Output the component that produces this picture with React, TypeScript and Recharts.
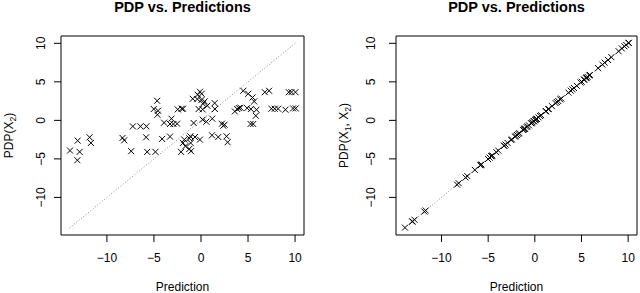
import { ScatterChart, Scatter, XAxis, YAxis, ReferenceLine, ReferenceArea } from 'recharts';

// predictions (x)
const prediction = [
    -13.92, -13.11, -13.14, -12.9, -11.84, -11.7, -8.34, -8.16, -7.42, -7.24,
    -6.43, -5.8, -5.83, -5.72, -4.84, -5.02, -4.66, -4.56, -4.63, -4.13,
    -3.92, -3.29, -3.14, -2.93, -3.29, -2.54, -2.47, -2.05, -1.91, -2.12,
    -1.91, -1.77, -1.66, -1.24, -1.13, -1.1, -1.24, -1.06, -0.78, -0.88,
    -0.35, -0.11, 0.07, -0.39, -0.25, 0.04, 0.18, 0.21, 0.18, 0.57,
    -0.11, -0.64, 0.39, 0.67, 1.45, 1.48, 1.2, 1.17, 1.84, 2.72,
    2.83, 2.23, 2.37, 2.51, 3.6, 3.85, 4.03, 4.2, 4.49, 5.02,
    4.91, 5.3, 5.27, 5.55, 5.48, 5.65, 5.9, 5.83, 6.78, 7.24,
    7.49, 7.84, 8.2, 8.98, 9.33, 9.61, 10.04, 9.79, 10.07,
];

const pdpX2 = [
    -3.92, -2.63, -5.17, -4.09, -2.2, -2.93, -2.28, -2.59, -4.0, -0.78,
    -0.78, -0.78, -2.2, -4.09, -4.09, 1.47, 2.54, 1.25, 0.73, -2.41,
    -0.3, -0.47, 0.22, -0.47, -2.11, -0.43, 1.42, 1.51, 1.51, -4.09,
    -2.93, -2.5, -3.36, -2.33, -2.07, -2.93, -3.71, -4.0, -0.34, 2.8,
    3.32, 3.71, 3.45, 2.76, 1.47, 2.63, 1.42, 2.16, 0.09, -0.17,
    -2.5, -2.16, 2.46, 1.9, 2.24, 1.47, 0.22, -1.94, -2.16, -2.07,
    -2.84, -0.43, -0.69, -0.56, 1.16, 1.47, 1.59, 1.64, 3.84, 3.45,
    1.59, 1.47, -0.47, -0.47, 2.97, 2.46, 1.38, 0.6, 3.66, 3.84,
    1.51, 1.51, 1.51, 1.38, 3.66, 3.66, 3.66, 1.55, 1.55,
];

// right panel: the joint PDP sits on the diagonal
const pdpX1X2 = [
    -13.92, -13.11, -13.14, -12.9, -11.84, -11.7, -8.34, -8.16, -7.42, -7.24,
    -6.43, -5.8, -5.83, -5.72, -4.84, -5.02, -4.66, -4.56, -4.63, -4.13,
    -3.92, -3.29, -3.14, -2.93, -3.29, -2.54, -2.47, -2.05, -1.91, -2.12,
    -1.91, -1.77, -1.66, -1.24, -1.13, -1.1, -1.24, -1.06, -0.78, -0.88,
    -0.35, -0.11, 0.07, -0.39, -0.25, 0.04, 0.18, 0.21, 0.18, 0.57,
    -0.11, -0.64, 0.39, 0.67, 1.45, 1.48, 1.2, 1.17, 1.84, 2.72,
    2.83, 2.23, 2.37, 2.51, 3.6, 3.85, 4.03, 4.2, 4.49, 5.02,
    4.91, 5.3, 5.27, 5.55, 5.48, 5.65, 5.9, 5.83, 6.78, 7.24,
    7.49, 7.84, 8.2, 8.98, 9.33, 9.61, 10.04, 9.79, 10.07,
];

const ticks = [-10, -5, 0, 5, 10];
const diagonal = [-13.98, 10.04];
const limits: [number, number] = [-14.88, 10.95];

const FONT = '"Liberation Sans", Arial, Helvetica, sans-serif';
const fmt = (v: number) => String(v).replace('-', '\u2212');

const XMark = (props: any) => {
    const { cx, cy } = props;
    const s = 3;
    return (
        <g stroke="#000" strokeWidth={1}>
            <line x1={cx - s} y1={cy - s} x2={cx + s} y2={cy + s} />
            <line x1={cx - s} y1={cy + s} x2={cx + s} y2={cy - s} />
        </g>
    );
};

const XTick = ({ x, y, payload }: any) => (
    <text x={x} y={y} dy={9} textAnchor="middle" fontSize={12} fill="#000" fontFamily={FONT}>
        {fmt(payload.value)}
    </text>
);

const YTick = ({ x, y, payload }: any) => (
    <text x={x} y={y} textAnchor="middle" fontSize={12} fill="#000" fontFamily={FONT}
        transform={`rotate(-90, ${x}, ${y})`}>
        {fmt(payload.value)}
    </text>
);

interface PanelProps {
    ys: number[];
    yLabel: 'one' | 'two';
    axisWidth: number;
    right: number;
    yTickMargin: number;
    yLabelX: number;
}

const Panel = ({ ys, yLabel, axisWidth, right, yTickMargin, yLabelX }: PanelProps) => {
    const data = prediction.map((p, i) => ({ x: p, y: ys[i] }));
    const plotW = 320 - axisWidth - right;
    return (
        <div style={{ position: 'relative', width: 320, height: 293 }}>
            <div style={{
                position: 'absolute', top: -1, left: axisWidth, width: plotW, textAlign: 'center',
                fontFamily: FONT, fontWeight: 'bold', fontSize: 14.5, lineHeight: '16px', color: '#000',
            }}>
                PDP vs. Predictions
            </div>
            <ScatterChart width={320} height={293} margin={{ top: 36, right, bottom: 0, left: 0 }}>
                <XAxis
                    type="number" dataKey="x" domain={limits} ticks={ticks} allowDataOverflow
                    height={58} axisLine={false} tickLine={{ stroke: '#000' }} tickSize={7} tickMargin={11}
                    tick={<XTick />}
                    label={({ viewBox }: any) => (
                        <text x={viewBox.x + viewBox.width / 2} y={viewBox.y + 55.5} textAnchor="middle"
                            fontSize={12} fill="#000" fontFamily={FONT}>Prediction</text>
                    )}
                />
                <YAxis
                    type="number" dataKey="y" domain={limits} ticks={ticks} allowDataOverflow
                    width={axisWidth} axisLine={false} tickLine={{ stroke: '#000' }} tickSize={7} tickMargin={yTickMargin}
                    tick={<YTick />}
                    label={({ viewBox }: any) => {
                        const cx = viewBox.x + yLabelX;
                        const cy = viewBox.y + viewBox.height / 2;
                        return (
                            <text x={cx} y={cy} textAnchor="middle" fontSize={12} fill="#000" fontFamily={FONT}
                                transform={`rotate(-90, ${cx}, ${cy})`}>
                                {yLabel === 'one' ? (
                                    <>PDP(X<tspan fontSize={8.5} dy={3}>2</tspan><tspan dy={-3}>)</tspan></>
                                ) : (
                                    <>PDP(X<tspan fontSize={8.5} dy={3}>1</tspan><tspan dy={-3}>, X</tspan><tspan fontSize={8.5} dy={3}>2</tspan><tspan dy={-3}>)</tspan></>
                                )}
                            </text>
                        );
                    }}
                />
                <ReferenceArea x1={limits[0]} x2={limits[1]} y1={limits[0]} y2={limits[1]}
                    fill="none" stroke="#000" strokeWidth={1} ifOverflow="visible" />
                <ReferenceLine
                    segment={[{ x: diagonal[0], y: diagonal[0] }, { x: diagonal[1], y: diagonal[1] }]}
                    stroke="#888" strokeDasharray="1 2" ifOverflow="visible"
                />
                <Scatter data={data} shape={<XMark />} isAnimationActive={false} />
            </ScatterChart>
        </div>
    );
};

export default function App() {
    return (
        <div style={{ position: 'absolute', left: 0, top: 0, width: 640, height: 293, display: 'flex', background: '#fff' }}>
            <Panel ys={pdpX2} yLabel="one" axisWidth={61} right={16} yTickMargin={9} yLabelX={12.5} />
            <Panel ys={pdpX1X2} yLabel="two" axisWidth={76} right={3} yTickMargin={14} yLabelX={28} />
        </div>
    );
}
